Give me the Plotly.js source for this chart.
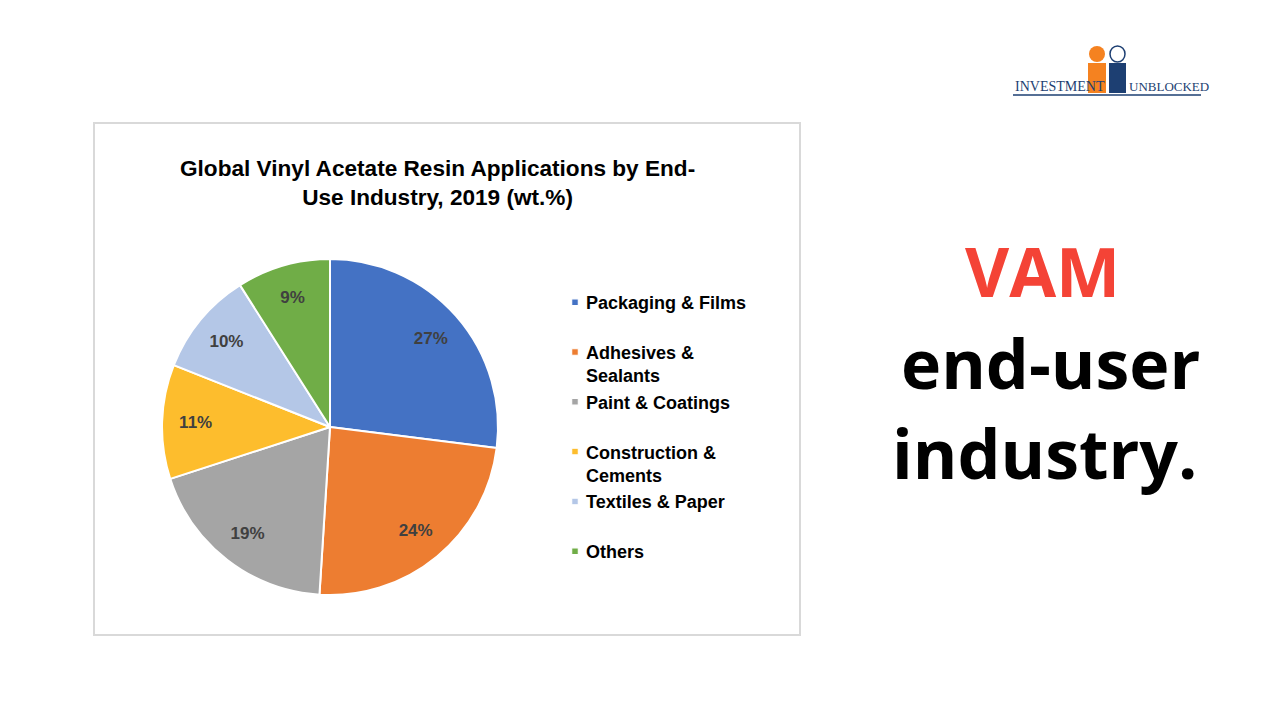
<!DOCTYPE html>
<html>
<head>
<meta charset="utf-8">
<script src="https://cdn.plot.ly/plotly-3.0.1.min.js"></script>
<style>html,body{margin:0;padding:0;background:#fff;}#chart{width:1280px;height:720px;}</style>
</head>
<body>
<div id="chart"></div>
<script>
const categories = ["Packaging & Films", "Adhesives &<br>Sealants", "Paint & Coatings", "Construction &<br>Cements", "Textiles & Paper", "Others"];
const shares = [27, 24, 19, 11, 10, 9];
const sliceColors = ["#4472c4", "#ed7d31", "#a5a5a5", "#fdbd2d", "#b4c7e7", "#70ad47"];

// pad single-line legend entries to two lines so all entries are equally spaced
const legendLabels = categories.map(c => c.includes("<br>") ? c : c + "<br> ");
const pieDomain = {x: [162/1280, 498/1280], y: [1 - 595/720, 1 - 259/720]};

const slices = {
  type: "pie",
  values: shares,
  labels: legendLabels,
  sort: false,
  direction: "clockwise",
  rotation: 0,
  marker: {colors: sliceColors, line: {color: "#ffffff", width: 2}},
  textinfo: "none",
  hoverinfo: "label+percent",
  domain: pieDomain
};

// transparent ring carrying the percentage labels, so they sit toward the rim like the original
const labelRing = {
  type: "pie",
  values: shares,
  labels: legendLabels,
  sort: false,
  direction: "clockwise",
  rotation: 0,
  hole: 0.6,
  showlegend: false,
  marker: {colors: shares.map(() => "rgba(0,0,0,0)"), line: {width: 0}},
  texttemplate: "%{value}%",
  textposition: "inside",
  insidetextorientation: "horizontal",
  textfont: {family: "Liberation Sans, Arial, sans-serif", size: 17, color: "#404040", weight: "bold"},
  hoverinfo: "skip",
  domain: pieDomain
};

const layout = {
  width: 1280, height: 720,
  margin: {l: 0, r: 0, t: 0, b: 0},
  paper_bgcolor: "#ffffff",
  showlegend: true,
  legend: {
    x: 546/1280, xanchor: "left", y: 1 - 284/720, yanchor: "top",
    valign: "top",
    font: {family: "Liberation Sans, Arial, sans-serif", size: 18, color: "#000000", weight: "bold"},
    bgcolor: "rgba(0,0,0,0)"
  },
  shapes: [
    {type: "rect", xref: "paper", yref: "paper", x0: 94/1280, x1: 800/1280, y0: 1 - 635/720, y1: 1 - 123/720,
     line: {color: "#d9d9d9", width: 2}, fillcolor: "rgba(0,0,0,0)"},
    // logo underline
    {type: "line", xref: "paper", yref: "paper", x0: 1013/1280, x1: 1201/1280, y0: 1 - 95/720, y1: 1 - 95/720,
     line: {color: "#1d3f72", width: 1.5}},
    // logo figures (simplified)
    {type: "circle", xref: "paper", yref: "paper", x0: 1089/1280, x1: 1105/1280, y0: 1 - 62/720, y1: 1 - 46/720,
     fillcolor: "#f58220", line: {width: 0}},
    {type: "rect", xref: "paper", yref: "paper", x0: 1088/1280, x1: 1106/1280, y0: 1 - 93/720, y1: 1 - 63/720,
     fillcolor: "#f58220", line: {width: 0}},
    {type: "circle", xref: "paper", yref: "paper", x0: 1110/1280, x1: 1125/1280, y0: 1 - 62/720, y1: 1 - 46/720,
     fillcolor: "#ffffff", line: {color: "#1d3f72", width: 1.5}},
    {type: "rect", xref: "paper", yref: "paper", x0: 1109/1280, x1: 1126/1280, y0: 1 - 93/720, y1: 1 - 63/720,
     fillcolor: "#1d3f72", line: {width: 0}}
  ],
  annotations: [
    {text: "<b>Global Vinyl Acetate Resin Applications by End-<br>Use Industry, 2019 (wt.%)</b>",
     xref: "paper", yref: "paper", x: 437/1280, y: 1 - 183/720, xanchor: "center", yanchor: "middle",
     showarrow: false, font: {family: "Liberation Sans, Arial, sans-serif", size: 22.6, color: "#000000"}},
    {text: "<b>VAM</b>", xref: "paper", yref: "paper", x: 1042/1280, y: 1 - 270/720, xanchor: "center", yanchor: "middle",
     showarrow: false, font: {family: "Open Sans, sans-serif", size: 68, color: "#f44336"}},
    {text: "<b>end-user</b>", xref: "paper", yref: "paper", x: 1050/1280, y: 1 - 362/720, xanchor: "center", yanchor: "middle",
     showarrow: false, font: {family: "Open Sans, sans-serif", size: 68, color: "#000000"}},
    {text: "<b>industry.</b>", xref: "paper", yref: "paper", x: 1044/1280, y: 1 - 452/720, xanchor: "center", yanchor: "middle",
     showarrow: false, font: {family: "Open Sans, sans-serif", size: 68, color: "#000000"}},
    {text: "INVESTMENT", xref: "paper", yref: "paper", x: 1013/1280, y: 1 - 86/720, xanchor: "left", yanchor: "middle",
     showarrow: false, font: {family: "Liberation Serif, serif", size: 14, color: "#1d3f72"}},
    {text: "UNBLOCKED", xref: "paper", yref: "paper", x: 1127/1280, y: 1 - 86/720, xanchor: "left", yanchor: "middle",
     showarrow: false, font: {family: "Liberation Serif, serif", size: 13, color: "#1d3f72"}}
  ]
};

Plotly.newPlot("chart", [slices, labelRing], layout, {displayModeBar: false, staticPlot: true}).then(() => {
  document.querySelectorAll(".legendpoints path").forEach(p => {
    p.setAttribute("transform", "translate(29,0) scale(0.55)");
  });
});
</script>
</body>
</html>
